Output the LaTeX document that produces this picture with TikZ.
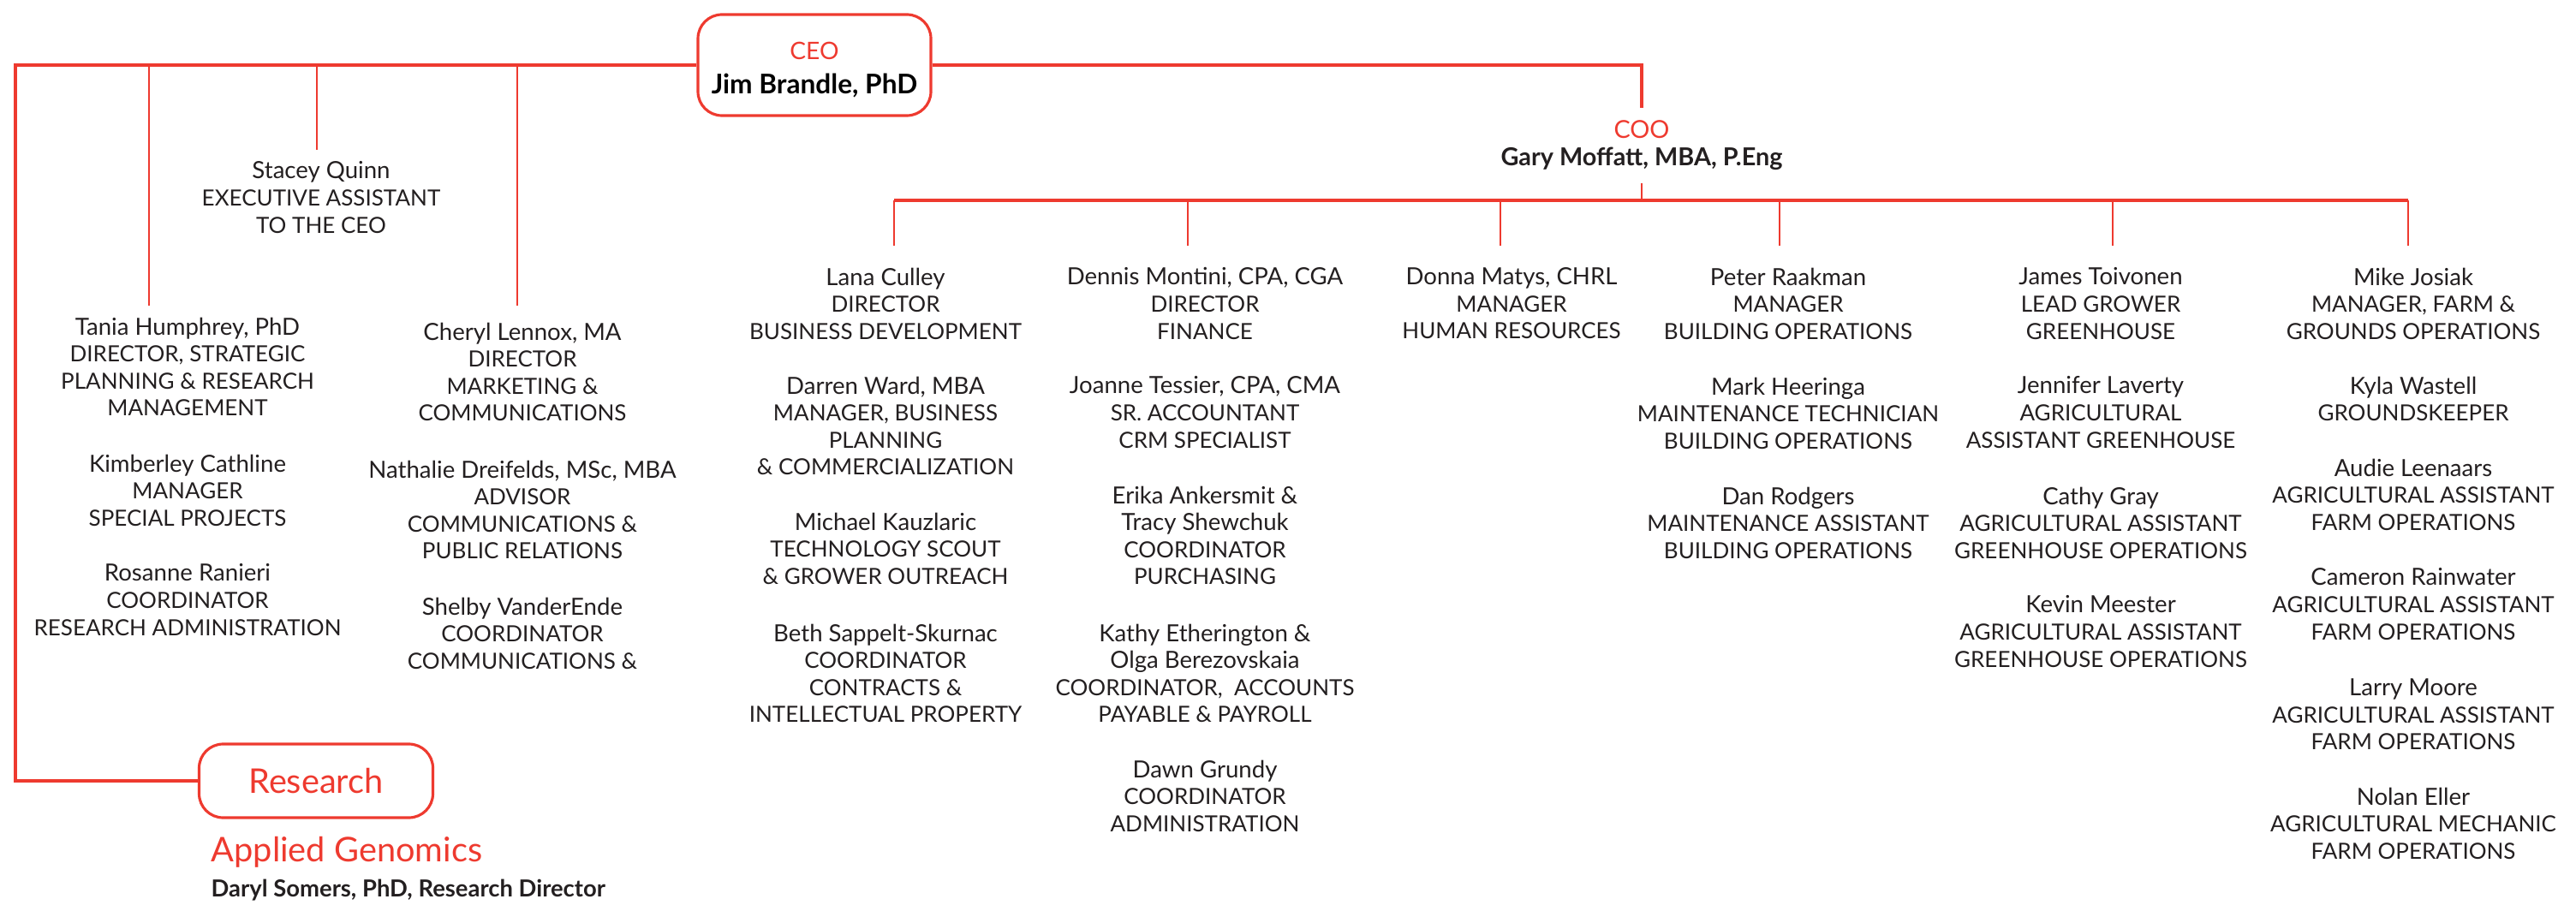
\documentclass[tikz,border=0pt]{standalone}
\usepackage{fontspec}
\setmainfont{Lato}
\usepackage{tikz}
\usetikzlibrary{positioning,calc}
\definecolor{chartred}{HTML}{EE3A2F}
\definecolor{ink}{HTML}{231F20}
\def \small {\fontsize{7.4}{9}\selectfont}
\def \big {\fontsize{11.3}{13}\selectfont}
\def \nm #1{{\fontsize{7.85}{9}\selectfont #1}}

\begin{document}
\begin{tikzpicture}
[p/.style={align=center,inner sep=0pt,anchor=north,text=ink,font=\small},
 box/.style={draw=chartred,line width=0.9pt,rounded corners=0.28cm,align=center,inner sep=0pt},
 bus/.style={draw=chartred,line width=0.9pt},
 tick/.style={draw=chartred,line width=0.6pt}]
\useasboundingbox (0,0) rectangle (30.08,-10.57);
\node[box,minimum width=2.72cm,minimum height=1.18cm,font=\fontsize{8}{11.6}\selectfont] (ceo) at (9.51,-0.76)
  {\rule{0pt}{9pt}\textcolor{chartred}{CEO}\\ \textbf{\fontsize{9}{11.6}\selectfont Jim Brandle, PhD}};
\node[p,font=\fontsize{8.2}{9}\selectfont,outer ysep=0.15cm] (coo) at (19.17,-1.26)
  {\textcolor{chartred}{COO}\\ \textbf{Gary Moffatt, MBA, P.Eng}};
\node[box,minimum width=2.73cm,minimum height=0.86cm,font=\big,text=chartred] (res) at (3.69,-9.12) {Research};
\node[anchor=west,inner sep=0pt,font=\big,text=chartred] (gen) at (2.46,-9.95) {Applied Genomics};
\node[anchor=west,inner sep=0pt,font=\fontsize{7.8}{9}\selectfont\bfseries,text=ink] (dir) at (2.46,-10.40) {Daryl Somers, PhD, Research Director};
\node[p] (stacey) at (3.75,-1.88) {\nm{Stacey Quinn}\\ EXECUTIVE ASSISTANT\\ TO THE CEO};
\node[p] (tania) at (2.19,-3.70) {\nm{Tania Humphrey, PhD}\\ DIRECTOR, STRATEGIC\\ PLANNING \& RESEARCH\\ MANAGEMENT};
\node[p] (kim) at (2.19,-5.30) {\nm{Kimberley Cathline}\\ MANAGER\\ SPECIAL PROJECTS};
\node[p] (rosanne) at (2.19,-6.58) {\nm{Rosanne Ranieri}\\ COORDINATOR\\ RESEARCH ADMINISTRATION};
\node[p] (cheryl) at (6.10,-3.76) {\nm{Cheryl Lennox, MA}\\ DIRECTOR\\ MARKETING \&\\ COMMUNICATIONS};
\node[p] (nathalie) at (6.10,-5.37) {\nm{Nathalie Dreifelds, MSc, MBA}\\ ADVISOR\\ COMMUNICATIONS \&\\ PUBLIC RELATIONS};
\node[p] (shelby) at (6.10,-6.97) {\nm{Shelby VanderEnde}\\ COORDINATOR\\ COMMUNICATIONS \&};
\node[p] (lana) at (10.34,-3.12) {\nm{Lana Culley}\\ DIRECTOR\\ BUSINESS DEVELOPMENT};
\node[p] (darren) at (10.34,-4.39) {\nm{Darren Ward, MBA}\\ MANAGER, BUSINESS\\ PLANNING\\ \& COMMERCIALIZATION};
\node[p] (michael) at (10.34,-5.98) {\nm{Michael Kauzlaric}\\ TECHNOLOGY SCOUT\\ \& GROWER OUTREACH};
\node[p] (beth) at (10.34,-7.28) {\nm{Beth Sappelt-Skurnac}\\ COORDINATOR\\ CONTRACTS \&\\ INTELLECTUAL PROPERTY};
\node[p] (dennis) at (14.07,-3.12) {\nm{Dennis Montini, CPA, CGA}\\ DIRECTOR\\ FINANCE};
\node[p] (joanne) at (14.07,-4.39) {\nm{Joanne Tessier, CPA, CMA}\\ SR. ACCOUNTANT\\ CRM SPECIALIST};
\node[p] (erika) at (14.07,-5.67) {\nm{Erika Ankersmit \&}\\ \nm{Tracy Shewchuk}\\ COORDINATOR\\ PURCHASING};
\node[p] (kathy) at (14.07,-7.28) {\nm{Kathy Etherington \&}\\ \nm{Olga Berezovskaia}\\ COORDINATOR,\ \ ACCOUNTS\\ PAYABLE \& PAYROLL};
\node[p] (dawn) at (14.07,-8.87) {\nm{Dawn Grundy}\\ COORDINATOR\\ ADMINISTRATION};
\node[p] (donna) at (17.65,-3.12) {\nm{Donna Matys, CHRL}\\ MANAGER\\ HUMAN RESOURCES};
\node[p] (peter) at (20.88,-3.12) {\nm{Peter Raakman}\\ MANAGER\\ BUILDING OPERATIONS};
\node[p] (mark) at (20.88,-4.40) {\nm{Mark Heeringa}\\ MAINTENANCE TECHNICIAN\\ BUILDING OPERATIONS};
\node[p] (dan) at (20.88,-5.68) {\nm{Dan Rodgers}\\ MAINTENANCE ASSISTANT\\ BUILDING OPERATIONS};
\node[p] (james) at (24.53,-3.12) {\nm{James Toivonen}\\ LEAD GROWER\\ GREENHOUSE};
\node[p] (jennifer) at (24.53,-4.39) {\nm{Jennifer Laverty}\\ AGRICULTURAL\\ ASSISTANT GREENHOUSE};
\node[p] (cathy) at (24.53,-5.68) {\nm{Cathy Gray}\\ AGRICULTURAL ASSISTANT\\ GREENHOUSE OPERATIONS};
\node[p] (kevin) at (24.53,-6.95) {\nm{Kevin Meester}\\ AGRICULTURAL ASSISTANT\\ GREENHOUSE OPERATIONS};
\node[p] (mike) at (28.18,-3.12) {\nm{Mike Josiak}\\ MANAGER, FARM \&\\ GROUNDS OPERATIONS};
\node[p] (kyla) at (28.18,-4.39) {\nm{Kyla Wastell}\\ GROUNDSKEEPER};
\node[p] (audie) at (28.18,-5.35) {\nm{Audie Leenaars}\\ AGRICULTURAL ASSISTANT\\ FARM OPERATIONS};
\node[p] (cameron) at (28.18,-6.63) {\nm{Cameron Rainwater}\\ AGRICULTURAL ASSISTANT\\ FARM OPERATIONS};
\node[p] (larry) at (28.18,-7.92) {\nm{Larry Moore}\\ AGRICULTURAL ASSISTANT\\ FARM OPERATIONS};
\node[p] (nolan) at (28.18,-9.19) {\nm{Nolan Eller}\\ AGRICULTURAL MECHANIC\\ FARM OPERATIONS};
\coordinate (lc) at (0.18,-0.76);
\coordinate (sq) at (3.70,-1.75);
\coordinate (th) at (1.74,-3.57);
\coordinate (cl) at (6.04,-3.57);
\coordinate (bl) at (10.44,-2.34);
\coordinate (br) at (28.12,-2.34);
\coordinate (t1) at (10.44,-2.87);
\coordinate (t2) at (13.87,-2.87);
\coordinate (t3) at (17.52,-2.87);
\coordinate (t4) at (20.78,-2.87);
\coordinate (t5) at (24.67,-2.87);
\coordinate (t6) at (28.12,-2.87);
\draw[bus] (ceo.west) -- (lc) |- (res.west);
\draw[bus] (ceo.east) -| (coo.north);
\draw[tick] (sq |- ceo.west) -- (sq);
\draw[tick] (th |- ceo.west) -- (th);
\draw[tick] (cl |- ceo.west) -- (cl);
\draw[tick] (coo.south) -- (coo.south |- bl);
\draw[bus] (bl) -- (br);
\draw[tick] (t1 |- bl) -- (t1);
\draw[tick] (t2 |- bl) -- (t2);
\draw[tick] (t3 |- bl) -- (t3);
\draw[tick] (t4 |- bl) -- (t4);
\draw[tick] (t5 |- bl) -- (t5);
\draw[tick] (t6 |- bl) -- (t6);
\end{tikzpicture}
\end{document}
